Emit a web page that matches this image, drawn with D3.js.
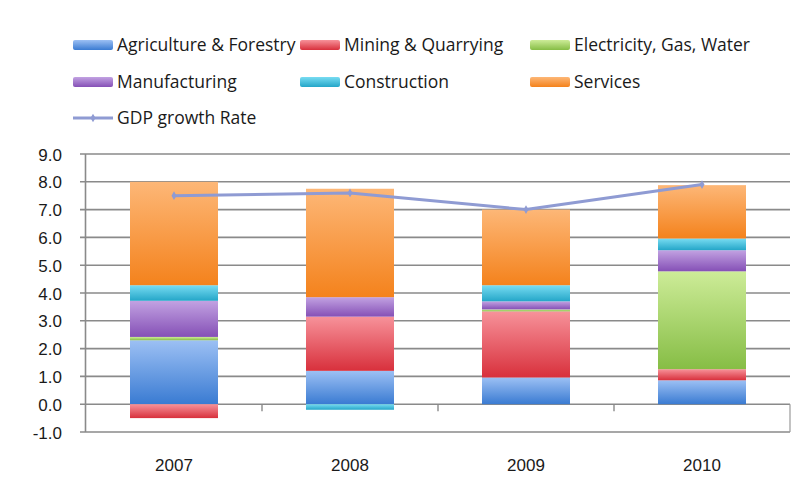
<!DOCTYPE html>
<html>
<head>
<meta charset="utf-8">
<script src="https://cdn.jsdelivr.net/npm/d3@7"></script>
<style>
  html, body { margin: 0; padding: 0; background: #ffffff; }
  svg { display: block; font-family: "Open Sans", Lato, sans-serif; }
</style>
</head>
<body>
<svg id="chart" width="794" height="484"></svg>
<script>
// GDP contribution by sector (percentage points) and overall growth rate
const years = ["2007", "2008", "2009", "2010"];
const agriculture   = [2.30, 1.20, 0.96, 0.86];
const mining        = [-0.50, 1.95, 2.38, 0.40];
const electricity   = [0.12, 0.00, 0.07, 3.52];
const manufacturing = [1.30, 0.70, 0.29, 0.76];
const construction  = [0.56, -0.20, 0.58, 0.42];
const services      = [3.72, 3.90, 2.72, 1.92];
const gdpGrowth     = [7.5, 7.6, 7.0, 7.9];
const yTicks = [-1, 0, 1, 2, 3, 4, 5, 6, 7, 8, 9];

const seriesNames = ["Agriculture & Forestry", "Mining & Quarrying", "Electricity, Gas, Water",
                     "Manufacturing", "Construction", "Services"];
const seriesValues = [agriculture, mining, electricity, manufacturing, construction, services];
// top / bottom tones of each segment's gradient
const seriesColors = [
  ["#9cc0f4", "#3a7bd2"],
  ["#f7929a", "#d8303c"],
  ["#cdec98", "#86bd45"],
  ["#c2a2e2", "#8550b6"],
  ["#78dcf2", "#24a6c8"],
  ["#fdb777", "#f4821c"]
];
const lineColor = "#8f9bd3";
const textColor = "#1a1a1a";

const svg = d3.select("#chart");
const defs = svg.append("defs");
seriesColors.forEach((c, i) => {
  const g = defs.append("linearGradient")
    .attr("id", "grad" + i)
    .attr("x1", 0).attr("y1", 0).attr("x2", 0).attr("y2", 1);
  g.append("stop").attr("offset", "0%").attr("stop-color", c[0]);
  g.append("stop").attr("offset", "100%").attr("stop-color", c[1]);
});

// build rows for stacking
const rows = years.map((yr, j) => {
  const r = { year: yr };
  seriesNames.forEach((n, i) => { r[n] = seriesValues[i][j]; });
  return r;
});
const stacked = d3.stack()
  .keys(seriesNames)
  .offset(d3.stackOffsetDiverging)(rows);

const x = d3.scaleBand().domain(years).range([86, 790]).paddingInner(0.5).paddingOuter(0.25);
const y = d3.scaleLinear().domain([-1, 9]).range([432, 154]);

// gridlines with outward ticks
const grid = svg.append("g");
grid.selectAll("line").data(yTicks).join("line")
  .attr("x1", 80).attr("x2", 790)
  .attr("y1", d => y(d)).attr("y2", d => y(d))
  .attr("stroke", "#8a8a8a").attr("stroke-width", 1.6);

// value axis labels (plain hyphen for negatives)
const fmt = d => d.toFixed(1);
const yAxis = d3.axisLeft(y).tickValues(yTicks).tickFormat(fmt).tickSize(0).tickPadding(0);
const yg = svg.append("g").attr("transform", "translate(62,0)").call(yAxis);
yg.select(".domain").remove();
yg.selectAll("text").attr("font-size", 17).attr("fill", textColor).attr("dy", "0.36em");

// value axis line
svg.append("line")
  .attr("x1", 85.5).attr("x2", 85.5).attr("y1", y(9)).attr("y2", y(-1))
  .attr("stroke", "#8a8a8a").attr("stroke-width", 1.6);

// category tick marks at the zero line
const boundaries = years.slice(1).map(d => x(d) - x.step() * x.paddingInner() / 2);
svg.append("g").selectAll("line").data(boundaries).join("line")
  .attr("x1", d => d).attr("x2", d => d)
  .attr("y1", y(0)).attr("y2", y(0) + 7)
  .attr("stroke", "#8a8a8a").attr("stroke-width", 1.4);
svg.append("line")
  .attr("x1", 790).attr("x2", 790).attr("y1", y(0)).attr("y2", y(-1))
  .attr("stroke", "#9a9a9a").attr("stroke-width", 1.2);

// stacked bars
stacked.forEach((s, i) => {
  svg.append("g").selectAll("rect").data(s.filter(d => d[1] !== d[0])).join("rect")
    .attr("x", d => x(d.data.year))
    .attr("width", x.bandwidth())
    .attr("y", d => y(Math.max(d[0], d[1])))
    .attr("height", d => Math.abs(y(d[0]) - y(d[1])))
    .attr("fill", "url(#grad" + i + ")");
});

// GDP growth line
const line = d3.line()
  .x((d, j) => x(years[j]) + x.bandwidth() / 2)
  .y(d => y(d));
svg.append("path")
  .datum(gdpGrowth)
  .attr("d", line)
  .attr("fill", "none")
  .attr("stroke", lineColor)
  .attr("stroke-width", 3)
  .attr("stroke-linejoin", "round");
svg.append("g").selectAll("path").data(gdpGrowth).join("path")
  .attr("d", d3.symbol(d3.symbolDiamond, 22))
  .attr("transform", (d, j) => `translate(${x(years[j]) + x.bandwidth() / 2},${y(d)})`)
  .attr("fill", lineColor);

// category labels
const xAxis = d3.axisBottom(x).tickSize(0).tickPadding(0);
const xg = svg.append("g").attr("transform", "translate(0,471)").call(xAxis);
xg.select(".domain").remove();
xg.selectAll("text").attr("font-size", 17).attr("fill", textColor).attr("dy", 0);

// legend
const legendPos = [[73, 45], [300, 45], [530, 45], [73, 82], [300, 82], [530, 82]];
const legend = svg.append("g");
seriesNames.forEach((n, i) => {
  const [lx, ly] = legendPos[i];
  legend.append("rect")
    .attr("x", lx).attr("y", ly - 5).attr("width", 40).attr("height", 10)
    .attr("rx", 2).attr("fill", "url(#grad" + i + ")");
  legend.append("text")
    .attr("x", lx + 44).attr("y", ly).attr("dy", "0.36em")
    .attr("font-size", 17.5).attr("fill", textColor).text(n);
});
legend.append("line")
  .attr("x1", 73).attr("x2", 113).attr("y1", 118).attr("y2", 118)
  .attr("stroke", lineColor).attr("stroke-width", 3);
legend.append("path")
  .attr("d", d3.symbol(d3.symbolDiamond, 22))
  .attr("transform", "translate(93,118)")
  .attr("fill", lineColor);
legend.append("text")
  .attr("x", 117).attr("y", 118).attr("dy", "0.36em")
  .attr("font-size", 17.5).attr("fill", textColor).text("GDP growth Rate");
</script>
</body>
</html>
